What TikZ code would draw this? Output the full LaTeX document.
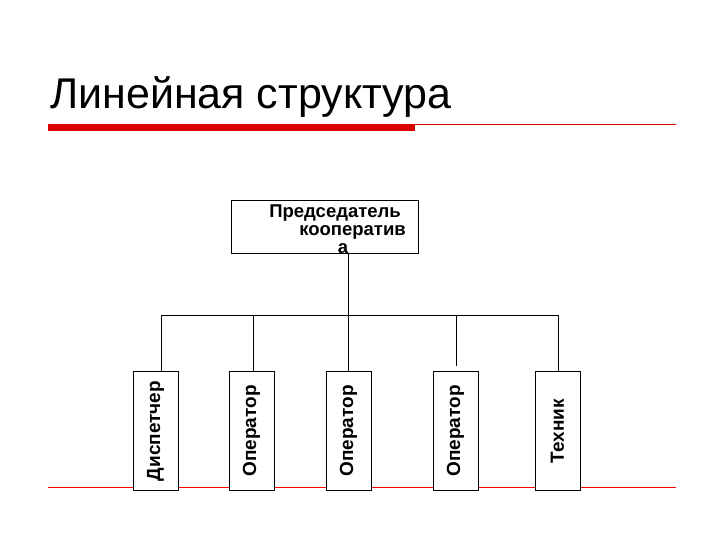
\documentclass[tikz,border=0pt]{standalone}
\usepackage{fontspec}
\setmainfont{Liberation Sans}
\begin{document}
\begin{tikzpicture}[x=1pt,y=-1pt,
  box/.style={draw,line width=0.8pt},
  lbl/.style={font=\fontsize{18.5}{19}\selectfont\bfseries,inner sep=0pt},
  vlbl/.style={font=\fontsize{19}{20}\selectfont\bfseries,inner sep=0pt,rotate=90},
  con/.style={line width=0.8pt}]
\useasboundingbox (0,0) rectangle (720,540);
\fill[white] (0,0) rectangle (720,540);
\node[anchor=base west,inner sep=0pt,font=\fontsize{43}{46}\selectfont] (title) at (50,109) {Линейная структура};
\fill[red!85!black] (48,124) rectangle (415,131);
\draw[red!85!black,line width=0.6pt] (415,124) -- (676,124);
\draw[red,line width=0.8pt] (48,487) -- (676,487);
\node[box,minimum width=187pt,minimum height=53pt,inner sep=0pt] (top) at (324.5,226.5) {};
\node[lbl,anchor=base east] (t1) at (401,218) {Председатель};
\node[lbl,anchor=base east] (t2) at (406,236) {кооператив};
\node[lbl,anchor=base] (t3) at (343,254) {а};
\foreach \n/\x/\t in {d/155.5/Диспетчер,o1/251.5/Оператор,o2/348.5/Оператор,o3/455.5/Оператор,t/557.5/Техник}{
  \node[box,fill=white,minimum width=45pt,minimum height=119pt,inner sep=0pt] (\n) at (\x,431) {};
  \node[vlbl] at (\x,431) {\t};
}
\coordinate (j) at (348,315);
\draw[con] (top.south -| j) -- (j);
\draw[con] (161,315) -- (558,315);
\draw[con] (161,315) -- (161,372);
\draw[con] (253,315) -- (253,372);
\draw[con] (348,315) -- (348,372);
\draw[con] (456,315) -- (456,366);
\draw[con] (558,315) -- (558,372);
\end{tikzpicture}
\end{document}
